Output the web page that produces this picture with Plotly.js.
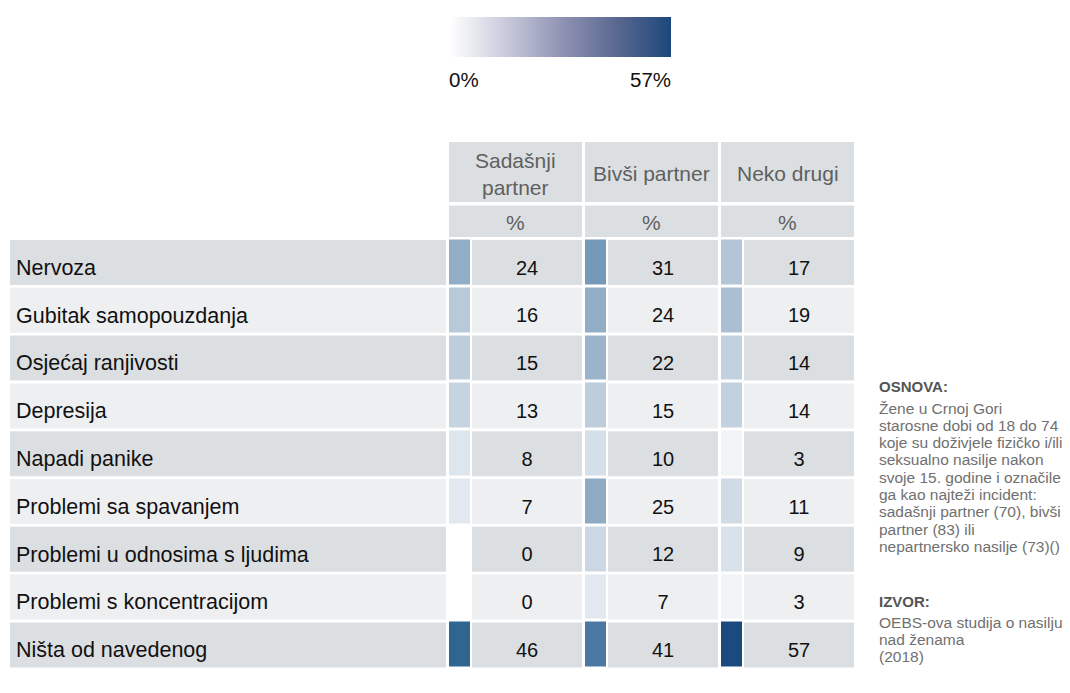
<!DOCTYPE html>
<html>
<head>
<meta charset="utf-8">
<script src="https://cdn.plot.ly/plotly-3.0.1.min.js"></script>
<style>html,body{margin:0;padding:0;background:#fff}#chart{width:1070px;height:693px}</style>
</head>
<body>
<div id="chart"></div>
<script>
// ---- data ----
const categories = ['Nervoza','Gubitak samopouzdanja','Osjećaj ranjivosti','Depresija','Napadi panike','Problemi sa spavanjem','Problemi u odnosima s ljudima','Problemi s koncentracijom','Ništa od navedenog'];
const seriesNames = ['Sadašnji<br>partner','Bivši partner','Neko drugi'];
const unitLabel = '%';
const sadasnjiPartner = [24,16,15,13,8,7,0,0,46];
const bivsiPartner = [31,24,22,15,10,25,12,7,41];
const nekoDrugi = [17,19,14,14,3,11,9,3,57];
const scaleMin = 0, scaleMax = 57;
const scaleLabels = ['0%','57%'];
const noteTitle1 = 'OSNOVA:';
const noteLines1 = ['Žene u Crnoj Gori','starosne dobi od 18 do 74','koje su doživjele fizičko i/ili','seksualno nasilje nakon','svoje 15. godine i označile','ga kao najteži incident:','sadašnji partner (70), bivši','partner (83) ili','nepartnersko nasilje (73)()'];
const noteTitle2 = 'IZVOR:';
const noteLines2 = ['OEBS-ova studija o nasilju','nad ženama','(2018)'];

// ---- layout geometry (pixels) ----
const W = 1070, H = 693;
const FONT = 'Liberation Sans, Arial, sans-serif';
const rowTop0 = 240, pitch = 47.8, rowH = 45;
const labelX0 = 10, labelX1 = 446;
const colStarts = [449, 585, 721];
const sqW = 20.5, numX0 = 23, numX1 = 133;
const hdr1 = [142, 202], hdr2 = [205.5, 237];
const darkBg = '#dcdfe1', lightBg = '#eeeff1', hdrBg = '#dcdfe1';
const textShift = 7;

const series = [sadasnjiPartner, bivsiPartner, nekoDrugi];
const n = categories.length;
const rowTop = i => rowTop0 + i * pitch;
const rowMid = i => rowTop(i) + rowH / 2;

const shapes = [];
const rect = (x0, x1, y0, y1, c) => shapes.push({type:'rect', xref:'x', yref:'y', x0, x1, y0, y1, fillcolor:c, line:{width:0}, layer:'below'});
// header cells
colStarts.forEach(c => { rect(c, c + numX1, hdr1[0], hdr1[1], hdrBg); rect(c, c + numX1, hdr2[0], hdr2[1], hdrBg); });
// row backgrounds
categories.forEach((_, i) => {
  const col = i % 2 === 0 ? darkBg : lightBg;
  rect(labelX0, labelX1, rowTop(i), rowTop(i) + rowH, col);
  colStarts.forEach(c => rect(c + numX0, c + numX1, rowTop(i), rowTop(i) + rowH, col));
});

// heatmap of colour squares (bins: square, gap, square, gap, square)
const xe = [colStarts[0], colStarts[0] + sqW, colStarts[1], colStarts[1] + sqW, colStarts[2], colStarts[2] + sqW];
const ye = [];
for (let i = 0; i <= n; i++) ye.push(rowTop0 - 1.5 + i * pitch);
const z = categories.map((_, i) => [series[0][i], null, series[1][i], null, series[2][i]]);

const cellScale = [
  [0, '#ffffff'], [3/57, '#f1f4f7'], [10/57, '#d5dfe9'], [17/57, '#b3c6d7'],
  [24/57, '#92adc7'], [31/57, '#7699ba'], [41/57, '#4a78a2'], [46/57, '#2f6591'], [1, '#1b4a7e']
];
const legendScale = [[0, '#ffffff'], [0.25, '#c9cadc'], [0.5, '#9094b4'], [0.75, '#5b6890'], [1, '#1c477c']];

const traces = [];
traces.push({type:'heatmap', x: xe, y: ye, z: z, zmin: scaleMin, zmax: scaleMax, colorscale: cellScale,
  showscale: false, ygap: 3, hoverinfo: 'skip', xaxis:'x', yaxis:'y'});

// numbers
series.forEach((s, k) => {
  traces.push({type:'scatter', mode:'text', x: s.map(() => colStarts[k] + (numX0 + numX1) / 2),
    y: s.map((_, i) => rowMid(i) + textShift), text: s.map(String), textposition:'middle center',
    textfont:{family: FONT, size: 20, color:'#111'}, hoverinfo:'skip', cliponaxis:false, xaxis:'x', yaxis:'y'});
});
// row labels
traces.push({type:'scatter', mode:'text', x: categories.map(() => labelX0 + 6), y: categories.map((_, i) => rowMid(i) + textShift),
  text: categories, textposition:'middle right', textfont:{family: FONT, size: 21.5, color:'#111'},
  hoverinfo:'skip', cliponaxis:false, xaxis:'x', yaxis:'y'});

// legend gradient
traces.push({type:'heatmap', x:[scaleMin, scaleMax], y:[0, 1], z:[[scaleMin, scaleMax],[scaleMin, scaleMax]],
  zmin: scaleMin, zmax: scaleMax, zsmooth:'best', colorscale: legendScale, showscale:false, hoverinfo:'skip',
  xaxis:'x2', yaxis:'y2'});

const annotations = [];
// header texts
seriesNames.forEach((t, k) => {
  annotations.push({xref:'x', yref:'y', x: colStarts[k] + numX1 / 2, y: (hdr1[0] + hdr1[1]) / 2 + 1.5, text: t,
    showarrow:false, font:{family: FONT, size: 21, color:'#5f5f5f'}, align:'center'});
  annotations.push({xref:'x', yref:'y', x: colStarts[k] + numX1 / 2, y: (hdr2[0] + hdr2[1]) / 2 + 1, text: unitLabel,
    showarrow:false, font:{family: FONT, size: 21, color:'#5f5f5f'}});
});
// legend labels
annotations.push({xref:'x2', yref:'y', x: scaleMin, y: 79, text: scaleLabels[0], xanchor:'left', showarrow:false,
  xshift:-3, font:{family: FONT, size: 20.5, color:'#111'}});
annotations.push({xref:'x2', yref:'y', x: scaleMax, y: 79, text: scaleLabels[1], xanchor:'right', showarrow:false,
  xshift:2, font:{family: FONT, size: 20.5, color:'#111'}});
// notes
const noteX = 877, lineH = 17.3;
annotations.push({xref:'x', yref:'y', x: noteX, y: 386, text: '<b>' + noteTitle1 + '</b>', xanchor:'left', showarrow:false,
  font:{family: FONT, size: 15, color:'#555'}});
noteLines1.forEach((t, i) => annotations.push({xref:'x', yref:'y', x: noteX, y: 408 + i * lineH, text: t, xanchor:'left',
  showarrow:false, font:{family: FONT, size: 15.5, color:'#707070'}}));
annotations.push({xref:'x', yref:'y', x: noteX, y: 601, text: '<b>' + noteTitle2 + '</b>', xanchor:'left', showarrow:false,
  font:{family: FONT, size: 15, color:'#555'}});
noteLines2.forEach((t, i) => annotations.push({xref:'x', yref:'y', x: noteX, y: 622 + i * lineH, text: t, xanchor:'left',
  showarrow:false, font:{family: FONT, size: 15.5, color:'#707070'}}));

const layout = {
  width: W, height: H, margin:{l:0, r:0, t:0, b:0}, paper_bgcolor:'#fff', plot_bgcolor:'rgba(0,0,0,0)',
  showlegend:false,
  xaxis:{range:[0, W], visible:false, fixedrange:true, domain:[0,1]},
  yaxis:{range:[H, 0], visible:false, fixedrange:true, domain:[0,1]},
  xaxis2:{range:[scaleMin, scaleMax], visible:false, fixedrange:true, domain:[450/W, 671/W], anchor:'y2'},
  yaxis2:{range:[0, 1], visible:false, fixedrange:true, domain:[1 - 57/H, 1 - 17/H], anchor:'x2'},
  shapes, annotations
};
Plotly.newPlot('chart', traces, layout, {displayModeBar:false, staticPlot:true});
</script>
</body>
</html>
